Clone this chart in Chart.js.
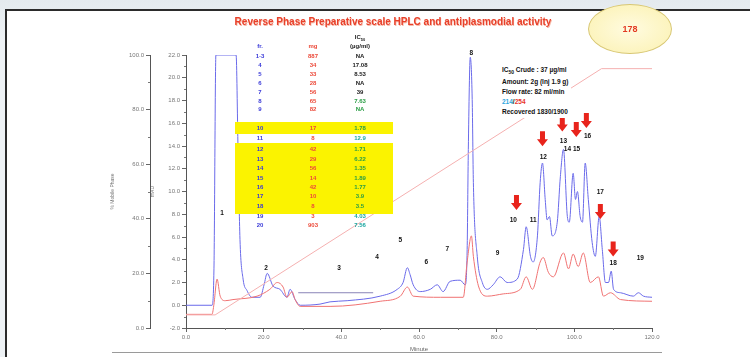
<!DOCTYPE html>
<html>
<head>
<meta charset="utf-8">
<script src="https://cdn.jsdelivr.net/npm/chart.js@4.4.1/dist/chart.umd.min.js"></script>
<style>
html, body { margin: 0; padding: 0; }
body { width: 750px; height: 357px; overflow: hidden; position: relative;
  background: linear-gradient(#e4eaee, #eef2f5 40px); font-family: "Liberation Sans", Arial, sans-serif; }
#panel { position: absolute; left: 5px; top: 9px; width: 760px; height: 360px; background: #fff;
  border-top: 2px solid #2b2b2b; border-left: 2px solid #2b2b2b; }
#c { position: absolute; left: 0; top: 0; }
.t { position: absolute; white-space: nowrap; font-weight: bold; }
.cell { position: absolute; white-space: nowrap; font-weight: bold; font-size: 6px; line-height: 8px;
  transform: translateX(-50%); }
.band { position: absolute; left: 235px; width: 158px; background: #fbf300; }
#title { left: 393px; top: 16px; transform: translateX(-50%); font-size: 10px; color: #e8402a;
  text-shadow: 0.6px 0.6px 0 #f6b9a8; }
#badge { position: absolute; left: 588px; top: 4px; width: 82px; height: 48px; border-radius: 50%;
  background: radial-gradient(#fffbe0, #fbf1b0); border: 1.5px solid #d8c774;
  color: #e33a22; font-weight: bold; font-size: 9px; line-height: 48px; text-align: center; }
#info { left: 499px; top: 65px; font-size: 6.5px; line-height: 10px; color: #111; background: #fff;
  padding: 0 3px 1px 3px; }
#rule { position: absolute; left: 112px; top: 352px; width: 550px; height: 1px; background: #9a9a9a; }
</style>
</head>
<body>
<div id="panel"></div>
<canvas id="c" width="750" height="357"></canvas>
<div class="band" style="top:122px;height:12px"></div>
<div class="band" style="top:143px;height:71px"></div>
<div id="table"></div>
<div id="title" class="t">Reverse Phase Preparative scale HPLC and antiplasmodial activity</div>
<div id="badge">178</div>
<div id="info" class="t">IC<sub style="font-size:5px">50</sub> Crude : 37 µg/ml<br>Amount: 2g (Inj 1.9 g)<br>Flow rate: 82 ml/min<br><span style="color:#2fa6e0">214</span>/<span style="color:#e8322a">254</span><br>Recovered 1830/1900</div>
<div id="rule"></div>
<script>
// chromatogram at 214 nm (blue), minutes / absorbance
const timeBlue = [0, 6.7, 7.2, 7.7, 12.9, 13.4, 13.9, 14.7, 15.7, 17.0, 19.1, 20.1, 20.9, 22.4, 24.2, 26.0, 26.8, 28.1,
  29.4, 34.5, 37.1, 41.5, 50.0, 54.4, 55.9, 57.0, 57.7, 58.5, 60.3, 62.9, 64.7, 66.2, 68.0, 70.6, 71.9, 72.4, 72.7,
  73.2, 73.7, 74.0, 75.0, 76.3, 77.6, 79.1, 80.9, 82.7, 85.3, 86.9, 87.6, 88.7, 89.4, 90.5, 91.2, 91.8, 92.5, 93.0,
  93.6, 94.3, 95.6, 96.4, 97.2, 98.2, 98.7, 99.7, 100.3, 100.8, 101.5, 102.1, 102.8, 103.6, 104.6, 105.4, 106.4,
  107.2, 108.0, 108.8, 109.5, 110.1, 111.9, 115.2, 116.5, 117.8, 120.0];
const absBlue = [0, 0, 3.2, 22, 22, 13.7, 5.8, 2.3, 1.3, 0.7, 0.7, 1.8, 2.8, 1.7, 1.4, 0.7, 1.4, 0.5,
  0, 0.1, 0.3, 0.4, 0.8, 1.4, 2.0, 3.3, 2.7, 1.8, 1.2, 1.4, 1.8, 1.2, 2.1, 2.2, 1.8, 4.9, 13.7,
  21.8, 18.1, 10.8, 4.3, 2.0, 1.4, 1.8, 2.5, 2.0, 2.3, 4.9, 6.9, 4.3, 3.8, 6.1, 10.8, 12.5, 9.3, 7.5,
  7.8, 6.1, 7.3, 11.3, 13.7, 7.8, 7.3, 11.6, 9.3, 10.0, 7.8, 7.3, 12.5, 9.3, 5.5, 4.3, 7.8,
  4.9, 2.0, 2.0, 3.0, 1.4, 1.1, 0.8, 1.1, 0.8, 0.7];

// chromatogram at 254 nm (red)
const timeRed = [0, 6.7, 7.2, 8.0, 8.8, 10.1, 12.1, 18.3, 21.6, 23.5, 25.0, 26.0, 27.3, 28.1, 29.4, 37.1, 50.0,
  55.2, 57.0, 58.5, 65.5, 71.4, 72.4, 73.5, 74.0, 75.3, 77.6, 81.7, 86.1, 87.6, 89.2, 91.2, 92.0, 93.3, 94.6,
  97.2, 98.5, 99.7, 101.0, 102.3, 104.1, 106.2, 107.5, 109.3, 111.9, 120.0];
const absRed = [-0.8, -0.8, 0.1, 2.3, 0.8, 0.4, 0.5, 0.8, 1.4, 2.0, 1.6, 0.7, 1.2, 0.5, -0.1, -0.1, 0.35,
  0.8, 1.6, 0.8, 0.7, 0.7, 3.8, 6.1, 4.3, 1.7, 0.8, 1.0, 1.4, 2.5, 1.4, 3.8, 4.2, 2.9, 2.5,
  4.6, 3.2, 4.5, 3.4, 4.6, 2.0, 2.5, 0.8, 1.1, 0.5, 0.35];

// solvent gradient (%)
const gradTime = [0, 7.5, 107, 120];
const gradPct = [4.8, 4.8, 95, 95];

// collection mark
const markTime = [28.9, 48.2];
const markVal = [1.1, 1.1];

// fraction labels on the trace
const peakNames = ['1', '2', '3', '4', '5', '6', '7', '8', '9', '10', '11', '12', '13', '14 15', '16', '17', '18', '19'];
const peakMin = [9.3, 20.6, 39.4, 49.2, 55.2, 61.9, 67.3, 73.5, 80.2, 84.3, 89.4, 92.0, 97.2, 99.4, 103.4, 106.7, 110.0, 117.0];
const peakVal = [8.1, 3.3, 3.3, 4.2, 5.7, 3.8, 4.9, 22.2, 4.6, 7.5, 7.5, 13.0, 14.4, 13.7, 14.9, 9.9, 3.7, 4.1];

// active fractions (arrows)
const arrowMin = [85.1, 91.8, 96.9, 100.5, 103.1, 106.7, 110.0];
const arrowVal = [9.0, 14.6, 15.9, 15.4, 16.2, 8.2, 4.9];

// fraction table
const fractions = ['1-3', '4', '5', '6', '7', '8', '9', '10', '11', '12', '13', '14', '15', '16', '17', '18', '19', '20'];
const massMg = ['887', '34', '33', '28', '56', '65', '82', '17', '8', '42', '29', '56', '14', '42', '10', '8', '3', '903'];
const ic50 = ['NA', '17.08', '8.53', 'NA', '39', '7.63', 'NA', '1.78', '12.9', '1.71', '6.22', '1.35', '1.89', '1.77', '3.9', '3.5', '4.03', '7.56'];

const xTicks = [0, 20, 40, 60, 80, 100, 120];

// table layout
const rowY = [56, 65, 74, 83, 92, 101, 109, 128, 138, 149, 159, 168, 178, 187, 196, 206, 216, 225];
const ic50Color = ['#222', '#222', '#222', '#222', '#222', '#2a9d45', '#2a9d45', '#2a9d45', '#1aa6a0', '#2a9d45',
  '#2a9d45', '#2a9d45', '#2a9d45', '#2a9d45', '#2a9d45', '#2a9d45', '#1aa6a0', '#1aa6a0'];
const colX = [260, 313, 360];

function cell(txt, x, y, color) {
  const d = document.createElement('div');
  d.className = 'cell';
  d.style.left = x + 'px';
  d.style.top = (y - 4) + 'px';
  d.style.color = color;
  d.innerHTML = txt;
  document.getElementById('table').appendChild(d);
}
cell('fr.', colX[0], 46, '#3a3ad8');
cell('mg', colX[1], 46, '#ec4a3a');
cell('IC<sub style="font-size:4px">50</sub>', colX[2], 37, '#222');
cell('(µg/ml)', colX[2], 46, '#222');
fractions.forEach((f, i) => {
  cell(f, colX[0], rowY[i], '#3a3ad8');
  cell(massMg[i], colX[1], rowY[i], '#ec4a3a');
  cell(ic50[i], colX[2], rowY[i], ic50Color[i]);
});

const pts = (xs, ys) => xs.map((v, i) => ({ x: v, y: ys[i] }));

const overlay = {
  id: 'overlay',
  afterDatasetsDraw(chart) {
    const { ctx } = chart;
    const { x, y, yB } = chart.scales;
    ctx.save();
    // minor ticks
    ctx.strokeStyle = '#777';
    ctx.lineWidth = 1;
    ctx.beginPath();
    for (let v = 10; v < 120; v += 20) {
      const px = Math.round(x.getPixelForValue(v)) + 0.5;
      ctx.moveTo(px, x.top); ctx.lineTo(px, x.top + 2);
    }
    for (let v = -1; v < 22; v += 2) {
      const py = Math.round(y.getPixelForValue(v)) + 0.5;
      ctx.moveTo(y.right - 2, py); ctx.lineTo(y.right, py);
    }
    for (let v = 10; v < 100; v += 10) {
      if (v % 20 === 0) continue;
      const py = Math.round(yB.getPixelForValue(v)) + 0.5;
      ctx.moveTo(yB.right - 2, py); ctx.lineTo(yB.right, py);
    }
    ctx.stroke();
    // fraction numbers
    ctx.font = 'bold 6.5px "Liberation Sans", Arial, sans-serif';
    ctx.fillStyle = '#111';
    ctx.textAlign = 'center';
    ctx.textBaseline = 'middle';
    peakNames.forEach((n, i) => {
      ctx.fillText(n, x.getPixelForValue(peakMin[i]), y.getPixelForValue(peakVal[i]));
    });
    // red arrows
    ctx.fillStyle = '#e8241c';
    arrowMin.forEach((m, i) => {
      const cx = x.getPixelForValue(m);
      const cy = y.getPixelForValue(arrowVal[i]);
      ctx.beginPath();
      ctx.moveTo(cx - 2.5, cy - 8);
      ctx.lineTo(cx + 2.5, cy - 8);
      ctx.lineTo(cx + 2.5, cy);
      ctx.lineTo(cx + 5.5, cy);
      ctx.lineTo(cx, cy + 7);
      ctx.lineTo(cx - 5.5, cy);
      ctx.lineTo(cx - 2.5, cy);
      ctx.closePath();
      ctx.fill();
    });
    ctx.restore();
  }
};

const tickFont = { size: 6, family: '"Liberation Sans", Arial, sans-serif' };

new Chart(document.getElementById('c'), {
  type: 'line',
  data: {
    datasets: [
      { label: 'Gradient', data: pts(gradTime, gradPct), yAxisID: 'yB', borderColor: '#f5b0b0', borderWidth: 1, pointRadius: 0 },
      { label: '254 nm', data: pts(timeRed, absRed), yAxisID: 'y', borderColor: '#f07272', borderWidth: 1,
        pointRadius: 0, cubicInterpolationMode: 'monotone' },
      { label: '214 nm', data: pts(timeBlue, absBlue), yAxisID: 'y', borderColor: '#6a6aea', borderWidth: 1,
        pointRadius: 0, cubicInterpolationMode: 'monotone' },
      { label: 'Collect', data: pts(markTime, markVal), yAxisID: 'y', borderColor: '#8a84b8', borderWidth: 1, pointRadius: 0 }
    ]
  },
  options: {
    responsive: false,
    animation: false,
    devicePixelRatio: 1,
    layout: { padding: { left: 110, right: 98, top: 55, bottom: 4 } },
    plugins: { legend: { display: false }, tooltip: { enabled: false } },
    scales: {
      x: {
        type: 'linear', min: 0, max: 120,
        afterFit(s) { s.height = 25; },
        afterBuildTicks(s) { s.ticks = xTicks.map(v => ({ value: v })); },
        ticks: { callback: v => v.toFixed(1), font: tickFont, color: '#777', padding: 2, maxRotation: 0 },
        grid: { drawOnChartArea: false, tickLength: 4, color: '#666' },
        border: { color: '#555' },
        title: { display: true, text: 'Minute', font: tickFont, color: '#666', padding: { top: 1, bottom: 0 } }
      },
      y: {
        position: 'left', min: -2, max: 22, weight: 0,
        afterFit(s) { s.width = 36; },
        ticks: { stepSize: 2, callback: v => v.toFixed(1), font: tickFont, color: '#777', padding: 2 },
        grid: { drawOnChartArea: false, tickLength: 4, color: '#666' },
        border: { color: '#555' },
        title: { display: true, text: 'mAU', font: { size: 5 }, color: '#777', padding: 0 }
      },
      yB: {
        position: 'left', min: 0, max: 100, weight: 1,
        afterFit(s) { s.width = 40; },
        ticks: { stepSize: 20, callback: v => v.toFixed(1), font: tickFont, color: '#777', padding: 2 },
        grid: { drawOnChartArea: false, tickLength: 4, color: '#666' },
        border: { color: '#555' },
        title: { display: true, text: '% Mobile Phase', font: { size: 5 }, color: '#777', padding: 0 }
      }
    }
  },
  plugins: [overlay]
});
</script>
</body>
</html>
